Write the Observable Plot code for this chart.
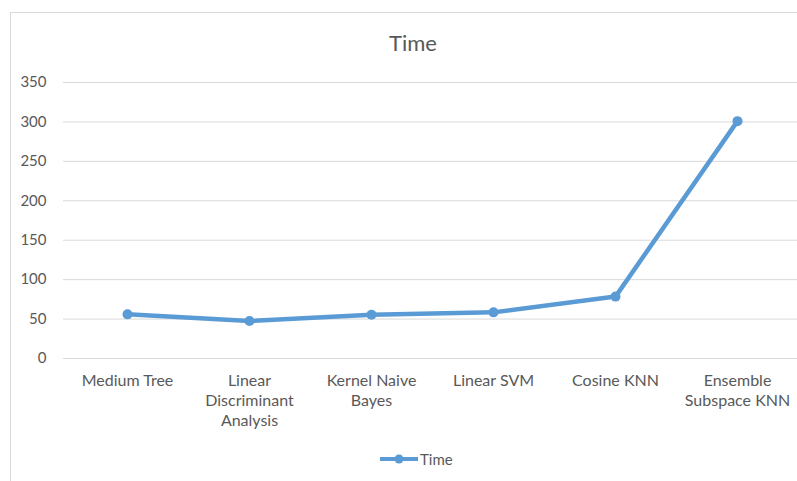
<!DOCTYPE html>
<html>
<head>
<meta charset="utf-8">
<script src="https://cdn.jsdelivr.net/npm/d3@7"></script>
<script src="https://cdn.jsdelivr.net/npm/@observablehq/plot@0.6"></script>
<style>
  html, body { margin: 0; padding: 0; background: #fff; }
  #wrap { position: relative; width: 797px; height: 481px; overflow: hidden; font-family: Lato, "Open Sans", sans-serif; }
  #frame { position: absolute; left: 10px; top: 12px; width: 800px; height: 480px; border: 1px solid #d9d9d9; box-sizing: border-box; }
  #title { position: absolute; left: 0; width: 826px; top: 29px; text-align: center; font-size: 22px; color: #595959; }
  #chart { position: absolute; left: 0; top: 60px; width: 800px; }
  #chart svg { max-width: none; }
  #legend { position: absolute; left: 378px; top: 449px; display: flex; align-items: center; font-size: 15px; color: #595959; }
</style>
</head>
<body>
<div id="wrap">
  <div id="frame"></div>
  <div id="title">Time</div>
  <div id="chart"></div>
  <div id="legend">
    <svg width="42" height="20"><line x1="2" x2="40" y1="10" y2="10" stroke="#5b9bd5" stroke-width="4"/><circle cx="21" cy="10" r="4.5" fill="#5b9bd5"/></svg>
    <span>Time</span>
  </div>
</div>
<script>
const categories = ["Medium Tree", "Linear Discriminant Analysis", "Kernel Naive Bayes", "Linear SVM", "Cosine KNN", "Ensemble Subspace KNN"];
const tickLabels = ["Medium Tree", "Linear\nDiscriminant\nAnalysis", "Kernel Naive\nBayes", "Linear SVM", "Cosine KNN", "Ensemble\nSubspace KNN"];
const timeValues = [56, 47.5, 55.5, 58.5, 78.5, 301];
const yTicks = [0, 50, 100, 150, 200, 250, 300, 350];

const data = categories.map((c, i) => ({category: c, value: timeValues[i]}));
const labelOf = new Map(categories.map((c, i) => [c, tickLabels[i]]));

const chart = Plot.plot({
  width: 800,
  height: 375,
  marginLeft: 63,
  marginRight: 0,
  marginTop: 22,
  marginBottom: 77,
  style: {fontFamily: "Lato, 'Open Sans', sans-serif", fontSize: "14px", color: "#595959", background: "transparent", maxWidth: "none"},
  x: {type: "point", domain: categories, padding: 0.5, label: null},
  y: {domain: [0, 350], ticks: yTicks, label: null},
  marks: [
    Plot.gridY(yTicks, {stroke: "#d9d9d9", strokeOpacity: 1, strokeWidth: 1}),
    Plot.axisY(yTicks, {tickSize: 0, tickPadding: 17, fontSize: 15, fill: "#595959", label: null}),
    Plot.axisX({tickSize: 0, tickPadding: 13, fontSize: 16, fill: "#595959", lineHeight: 1.25, tickFormat: d => labelOf.get(d), label: null}),
    Plot.line(data, {x: "category", y: "value", stroke: "#5b9bd5", strokeWidth: 4.5, strokeLinejoin: "round"}),
    Plot.dot(data, {x: "category", y: "value", r: 5, fill: "#5b9bd5", stroke: null})
  ]
});
document.getElementById("chart").appendChild(chart);
</script>
</body>
</html>
